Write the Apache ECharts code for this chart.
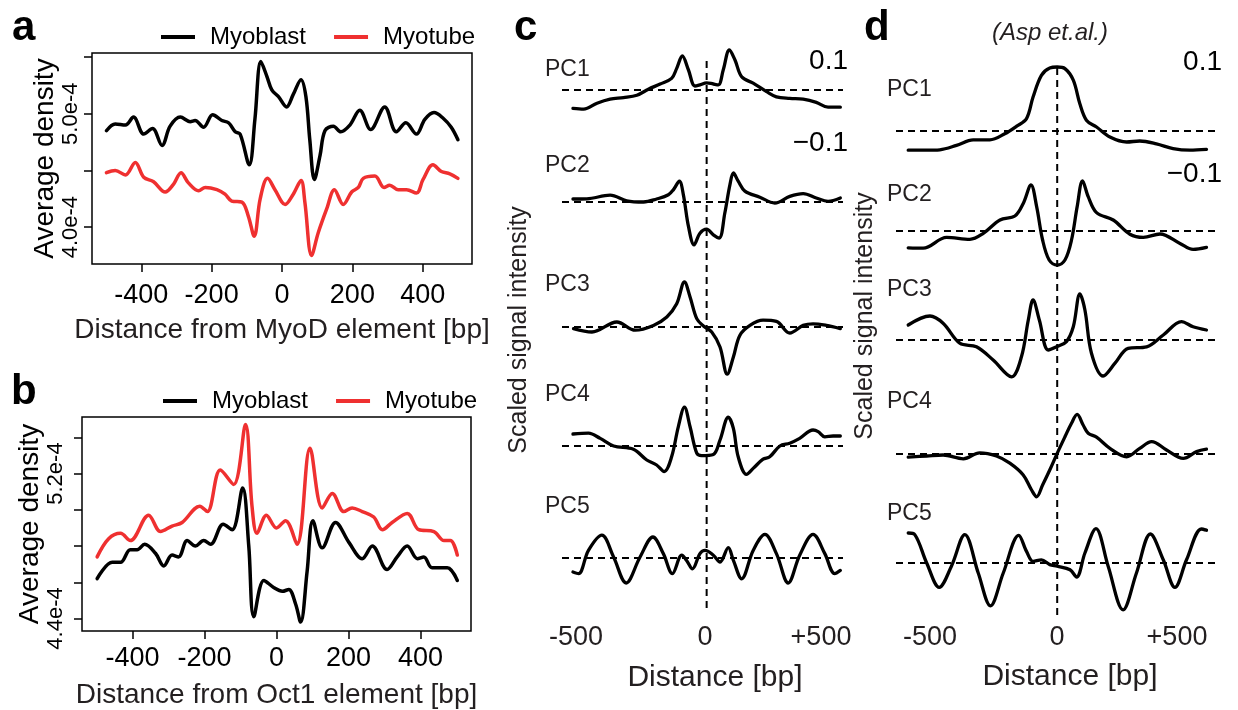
<!DOCTYPE html>
<html>
<head>
<meta charset="utf-8">
<script src="https://cdn.jsdelivr.net/npm/echarts@6/dist/echarts.min.js"></script>
<style>
html, body { margin: 0; background: #fff; }
#main { width: 1238px; height: 710px; }
</style>
</head>
<body>
<div id="main"></div>
<script>
// ---- panel a (MyoD), density in units of 1e-4 ----
var aBlastX = [-499,-474,-445,-422,-393,-368,-341,-318,-289,-261,-247,-223,-197,-171,-152,-133,-119,-93,-77,-60,-43,-29,-10,13,32,54,68,79,92,108,122,146,167,193,221,252,292,325,352,382,406,432,458,481,500];
var aBlastY = [4.85,4.91,4.90,4.97,4.82,4.87,4.72,4.89,4.97,4.93,4.94,4.88,4.99,4.94,4.92,4.84,4.82,4.55,4.95,5.46,5.33,5.21,5.15,5.06,5.17,5.30,5.15,4.77,4.42,4.63,4.85,4.89,4.84,4.90,5.03,4.86,5.06,4.84,4.92,4.82,4.95,5.01,4.96,4.88,4.77];
var aTubeX = [-499,-474,-445,-417,-393,-365,-332,-308,-287,-266,-237,-218,-185,-162,-143,-114,-96,-79,-62,-41,-20,9,32,54,65,84,103,127,149,174,198,217,231,264,290,306,330,354,382,401,429,453,477,500];
var aTubeY = [4.48,4.50,4.46,4.57,4.44,4.40,4.31,4.38,4.48,4.39,4.32,4.35,4.33,4.29,4.23,4.22,4.10,3.92,4.25,4.43,4.33,4.20,4.29,4.41,4.22,3.75,3.95,4.16,4.33,4.20,4.31,4.35,4.43,4.45,4.35,4.37,4.33,4.33,4.30,4.42,4.55,4.49,4.47,4.43];

// ---- panel b (Oct1) ----
var bBlastX = [-498,-456,-433,-406,-387,-366,-336,-313,-290,-272,-248,-225,-202,-183,-148,-123,-94,-77,-63,-35,-7,16,34,53,67,85,101,127,164,201,238,266,307,335,363,391,409,432,474,502];
var bBlastY = [4.62,4.71,4.71,4.78,4.78,4.81,4.76,4.69,4.75,4.74,4.83,4.80,4.83,4.81,4.92,4.89,5.12,4.80,4.41,4.61,4.57,4.55,4.56,4.48,4.38,4.66,4.94,4.79,4.93,4.82,4.73,4.80,4.67,4.74,4.80,4.73,4.74,4.68,4.68,4.61];
var bTubeX = [-498,-466,-433,-406,-355,-322,-290,-262,-213,-192,-156,-119,-86,-68,-54,-28,0,25,57,93,127,155,187,210,238,270,294,321,363,395,437,465,483,502];
var bTubeY = [4.74,4.84,4.87,4.83,4.97,4.88,4.91,4.93,5.02,4.99,5.22,5.14,5.47,5.02,4.87,4.97,4.90,4.94,4.81,5.34,5.01,5.09,4.99,5.01,4.99,4.96,4.89,4.93,4.98,4.89,4.88,4.83,4.83,4.75];

var abXTicks = [-400, -200, 0, 200, 400];
var aYTicks = [4.0, 4.5, 5.0, 5.5];
var aYLabels = [4.0, 5.0];
var bYTicks = [4.4, 4.6, 4.8, 5.0, 5.2, 5.4];
var bYLabels = [4.4, 5.2];

// ---- panel c, PC loadings ----
var cPC1X = [-500,-460,-410,-361,-311,-261,-218,-174,-131,-112,-91,-68,-44,-25,0,25,44,62,85,106,131,174,224,261,311,361,410,454,500];
var cPC1Y = [-0.046,-0.048,-0.033,-0.023,-0.019,-0.013,0.002,0.015,0.029,0.054,0.085,0.05,0.01,0.013,0.018,0.015,0.013,0.05,0.10,0.075,0.033,0.017,-0.004,-0.017,-0.021,-0.023,-0.031,-0.043,-0.043];
var cPC2X = [-500,-448,-361,-299,-236,-187,-143,-124,-102,-87,-68,-47,-25,0,25,47,68,87,100,118,143,199,255,311,361,410,454,500];
var cPC2Y = [0.0075,0.008,0.017,0.003,0,0.0075,0.018,0.031,0.052,0.018,-0.061,-0.107,-0.078,-0.068,-0.082,-0.09,-0.0275,0.043,0.0725,0.052,0.027,0.012,-0.0025,0.014,0.021,0.01,0.0017,0.01];
var cPC3X = [-498,-429,-336,-267,-199,-149,-112,-83,-62,-37,-12,19,50,77,100,124,162,211,261,311,361,398,448,500];
var cPC3Y = [-0.004,-0.0125,0.0125,-0.008,0.004,0.025,0.058,0.1125,0.075,0.021,0.0025,-0.0125,-0.05,-0.118,-0.075,-0.021,0.004,0.017,0.014,-0.015,0.004,0.008,0.004,-0.004];
var cPC4X = [-500,-442,-398,-348,-274,-224,-187,-159,-131,-106,-83,-62,-37,-19,25,50,81,100,118,149,174,211,236,274,311,348,398,417,442,473,500];
var cPC4Y = [0.03,0.032,0.019,0,-0.008,-0.035,-0.0475,-0.064,-0.027,0.048,0.097,0.048,-0.018,-0.024,-0.021,0.015,0.072,0.044,-0.027,-0.071,-0.056,-0.033,-0.027,0,0.007,0.019,0.04,0.036,0.023,0.025,0.025];
var cPC5X = [-500,-479,-442,-392,-348,-301,-249,-201,-162,-128,-93,-75,-53,-25,-6,25,50,81,100,131,174,218,261,305,348,398,442,479,500];
var cPC5Y = [-0.035,-0.039,0.019,0.057,0.0025,-0.0625,0.0025,0.0525,0.011,-0.039,0.007,-0.006,-0.027,0.011,0.019,0.007,-0.01,0.026,-0.006,-0.052,0.019,0.059,0.011,-0.0625,0.007,0.059,0.011,-0.039,-0.031];

// ---- panel d (Asp et al.) ----
var dPC1X = [-500,-438,-394,-338,-282,-226,-176,-136,-103,-81,-53,-25,0,26,54,76,98,132,177,233,277,333,389,445,501];
var dPC1Y = [-0.048,-0.048,-0.047,-0.036,-0.022,-0.022,-0.007,0.012,0.031,0.085,0.139,0.1575,0.16,0.156,0.127,0.068,0.027,0.01,-0.015,-0.0275,-0.025,-0.032,-0.044,-0.048,-0.046];
var dPC2X = [-500,-450,-371,-293,-248,-192,-142,-114,-88,-69,-49,-27,0,26,48,67,85,104,132,188,244,289,345,412,456,501];
var dPC2Y = [-0.042,-0.043,-0.016,-0.021,-0.006,0.0275,0.0375,0.069,0.115,0.061,-0.0225,-0.0725,-0.085,-0.0725,-0.0225,0.061,0.125,0.086,0.046,0.0275,-0.008,-0.016,-0.0075,-0.031,-0.046,-0.041];
var dPC3X = [-500,-427,-383,-327,-271,-215,-153,-120,-97,-81,-60,-30,-2,31,54,76,93,115,154,194,238,300,356,417,456,501];
var dPC3Y = [0.0375,0.06,0.042,-0.008,-0.017,-0.05,-0.092,-0.042,0.05,0.1,0.05,-0.025,-0.017,-0.004,0.033,0.115,0.075,-0.033,-0.09,-0.058,-0.021,-0.017,0.0125,0.046,0.033,0.025];
var dPC4X = [-500,-438,-383,-315,-260,-204,-159,-114,-86,-69,-49,-25,0,26,48,67,87,104,132,177,233,277,317,367,423,468,501];
var dPC4Y = [-0.008,-0.005,-0.0025,-0.012,0.003,-0.005,-0.023,-0.0525,-0.09,-0.107,-0.0775,-0.04,0.0017,0.043,0.077,0.099,0.0725,0.052,0.042,0.014,-0.007,0.014,0.031,0.01,-0.011,0.006,0.012];
var dPC5X = [-500,-478,-438,-396,-355,-310,-265,-224,-181,-129,-103,-81,-53,-25,0,43,65,93,130,171,221,266,313,356,395,434,484,501];
var dPC5Y = [0.075,0.071,0,-0.061,-0.008,0.071,-0.025,-0.107,-0.025,0.069,0.029,0.004,0.008,-0.004,-0.008,-0.017,-0.035,0.025,0.086,-0.008,-0.117,-0.025,0.0725,0.008,-0.061,0.008,0.085,0.082];

var pcNames = ['PC1', 'PC2', 'PC3', 'PC4', 'PC5'];
var cdTickLabels = ['-500', '0', '+500'];

var FONT = "'Liberation Sans', Arial, Helvetica, sans-serif";
var INK = '#231f20';
var RED = '#ef3030';

function zip(xs, ys) {
    var out = [];
    for (var i = 0; i < xs.length; i++) out.push([xs[i], ys[i]]);
    return out;
}

var chart = echarts.init(document.getElementById('main'));

var grids = [
    { left: 92, top: 53, width: 380, height: 211, show: true, borderColor: '#000', borderWidth: 1.5 },
    { left: 82, top: 417, width: 389, height: 216, show: true, borderColor: '#000', borderWidth: 1.5 }
];
var xAxes = [];
var yAxes = [];
var series = [];

function abAxes(gi, xName, yMin, yMax, yTicks, yLabels, labelMargin, yNameGap, yLabMargin, xNameGap) {
    xAxes.push({
        gridIndex: gi, type: 'value', min: -540, max: 540,
        axisLine: { show: false, onZero: false }, splitLine: { show: false },
        axisTick: { show: true, length: 8, customValues: abXTicks, lineStyle: { color: '#000', width: 1.5 } },
        axisLabel: { customValues: abXTicks, fontSize: 27, fontFamily: FONT, color: '#000', margin: labelMargin },
        name: xName, nameLocation: 'middle', nameGap: xNameGap,
        nameTextStyle: { fontSize: 28, fontFamily: FONT, color: INK }
    });
    yAxes.push({
        gridIndex: gi, type: 'value', min: yMin, max: yMax,
        axisLine: { show: false, onZero: false }, splitLine: { show: false },
        axisTick: { show: true, length: 8, customValues: yTicks, lineStyle: { color: '#000', width: 1.5 } },
        axisLabel: {
            customValues: yLabels, rotate: 90, fontSize: 22, fontFamily: FONT, color: '#000', margin: yLabMargin,
            formatter: function (v) { return v.toFixed(1) + 'e-4'; }
        },
        name: 'Average density', nameLocation: 'middle', nameRotate: 90, nameGap: yNameGap,
        nameTextStyle: { fontSize: 28, fontFamily: FONT, color: '#000' }
    });
}
abAxes(0, 'Distance from MyoD element [bp]', 3.675, 5.535, aYTicks, aYLabels, 18, 30, 10, 52);
abAxes(1, 'Distance from Oct1 element [bp]', 4.331, 5.512, bYTicks, bYLabels, 14, 37, 15, 50);

function densLine(name, gi, xs, ys, color) {
    series.push({
        name: name, type: 'line', xAxisIndex: gi, yAxisIndex: gi,
        data: zip(xs, ys), smooth: 0.35, symbol: 'none', color: color,
        lineStyle: { color: color, width: 3.5, cap: 'round', join: 'round' }
    });
}
densLine('Myoblast', 0, aBlastX, aBlastY, '#000');
densLine('Myotube', 0, aTubeX, aTubeY, RED);
densLine('Myoblast', 1, bBlastX, bBlastY, '#000');
densLine('Myotube', 1, bTubeX, bTubeY, RED);

// PC panels: one small grid per trace, 400 px per unit
var cBase = [90, 202, 327, 446, 558];
var dBase = [131, 231, 340, 454, 563];
var cData = [[cPC1X, cPC1Y], [cPC2X, cPC2Y], [cPC3X, cPC3Y], [cPC4X, cPC4Y], [cPC5X, cPC5Y]];
var dData = [[dPC1X, dPC1Y], [dPC2X, dPC2Y], [dPC3X, dPC3Y], [dPC4X, dPC4Y], [dPC5X, dPC5Y]];
var dash = { color: '#000', width: 2, type: [7, 5] };

function pcPanel(bases, data, left, width, xMin, xMax) {
    for (var i = 0; i < 5; i++) {
        var gi = grids.length;
        grids.push({ left: left, top: bases[i] - 80, width: width, height: 160 });
        xAxes.push({ gridIndex: gi, type: 'value', min: xMin, max: xMax, show: false });
        yAxes.push({ gridIndex: gi, type: 'value', min: -0.2, max: 0.2, show: false });
        series.push({
            name: pcNames[i], type: 'line', xAxisIndex: gi, yAxisIndex: gi,
            data: zip(data[i][0], data[i][1]), smooth: 0.35, symbol: 'none',
            lineStyle: { color: '#000', width: 3.3, cap: 'round', join: 'round' },
            markLine: {
                silent: true, symbol: 'none', label: { show: false },
                lineStyle: dash, data: [{ yAxis: 0 }]
            }
        });
    }
}
pcPanel(cBase, cData, 562, 281, -541, 510);
pcPanel(dBase, dData, 896, 323, -541, 543);

// vertical dashed line at 0 through each PC panel
function vLine(left, width, xMin, xMax, top, height) {
    var gi = grids.length;
    grids.push({ left: left, top: top, width: width, height: height });
    xAxes.push({ gridIndex: gi, type: 'value', min: xMin, max: xMax, show: false });
    yAxes.push({ gridIndex: gi, type: 'value', min: 0, max: 1, show: false });
    series.push({
        type: 'line', xAxisIndex: gi, yAxisIndex: gi, data: [[0, 0], [0, 1]],
        symbol: 'none', lineStyle: dash, silent: true
    });
}
vLine(562, 281, -541, 510, 58, 550);
vLine(896, 323, -541, 543, 63, 552);

function txt(s, x, y, size, opts) {
    opts = opts || {};
    return {
        type: 'text', x: x, y: y, rotation: opts.rot || 0, silent: true,
        style: {
            text: s, fontSize: size, fontFamily: FONT, fill: opts.fill || INK,
            fontWeight: opts.bold ? 'bold' : 'normal', fontStyle: opts.italic ? 'italic' : 'normal',
            align: opts.align || 'center', verticalAlign: 'middle'
        }
    };
}

var cLabelY = [70, 166, 285, 395, 507];
var dLabelY = [90, 195, 290, 402, 514];
var graphics = [
    txt('a', 12, 28, 42, { bold: true, align: 'left', fill: '#000' }),
    txt('b', 11, 392, 42, { bold: true, align: 'left', fill: '#000' }),
    txt('c', 514, 28, 42, { bold: true, align: 'left', fill: '#000' }),
    txt('d', 864, 28, 42, { bold: true, align: 'left', fill: '#000' }),
    txt('(Asp et.al.)', 1050, 33, 24, { italic: true }),
    txt('0.1', 848, 61, 28, { align: 'right', fill: '#000' }),
    txt('\u22120.1', 848, 143, 28, { align: 'right', fill: '#000' }),
    txt('0.1', 1222, 62, 28, { align: 'right', fill: '#000' }),
    txt('\u22120.1', 1222, 174, 28, { align: 'right', fill: '#000' }),
    txt('Scaled signal intensity', 519, 330, 25, { rot: Math.PI / 2 }),
    txt('Scaled signal intensity', 865, 316, 25, { rot: Math.PI / 2 }),
    txt('Distance [bp]', 715, 678, 30),
    txt('Distance [bp]', 1070, 677, 30)
];
var cTickPos = [576, 705, 821];
var dTickPos = [930, 1057, 1177];
for (var k = 0; k < 3; k++) {
    graphics.push(txt(cdTickLabels[k], cTickPos[k], 638, 27));
    graphics.push(txt(cdTickLabels[k], dTickPos[k], 638, 27));
}
for (var j = 0; j < 5; j++) {
    graphics.push(txt(pcNames[j], 545, cLabelY[j], 23, { align: 'left' }));
    graphics.push(txt(pcNames[j], 887, dLabelY[j], 23, { align: 'left' }));
}

function legendAt(left, top) {
    return {
        left: left, top: top, orient: 'horizontal', icon: 'rect',
        itemWidth: 34, itemHeight: 4, itemGap: 28,
        data: ['Myoblast', 'Myotube'], selectedMode: false,
        textStyle: { fontSize: 24, fontFamily: FONT, color: '#000', padding: [0, 0, 0, 10] }
    };
}

chart.setOption({
    animation: false,
    backgroundColor: '#fff',
    legend: [legendAt(156, 20), legendAt(158, 384)],
    grid: grids,
    xAxis: xAxes,
    yAxis: yAxes,
    series: series,
    graphic: graphics
});
</script>
</body>
</html>
